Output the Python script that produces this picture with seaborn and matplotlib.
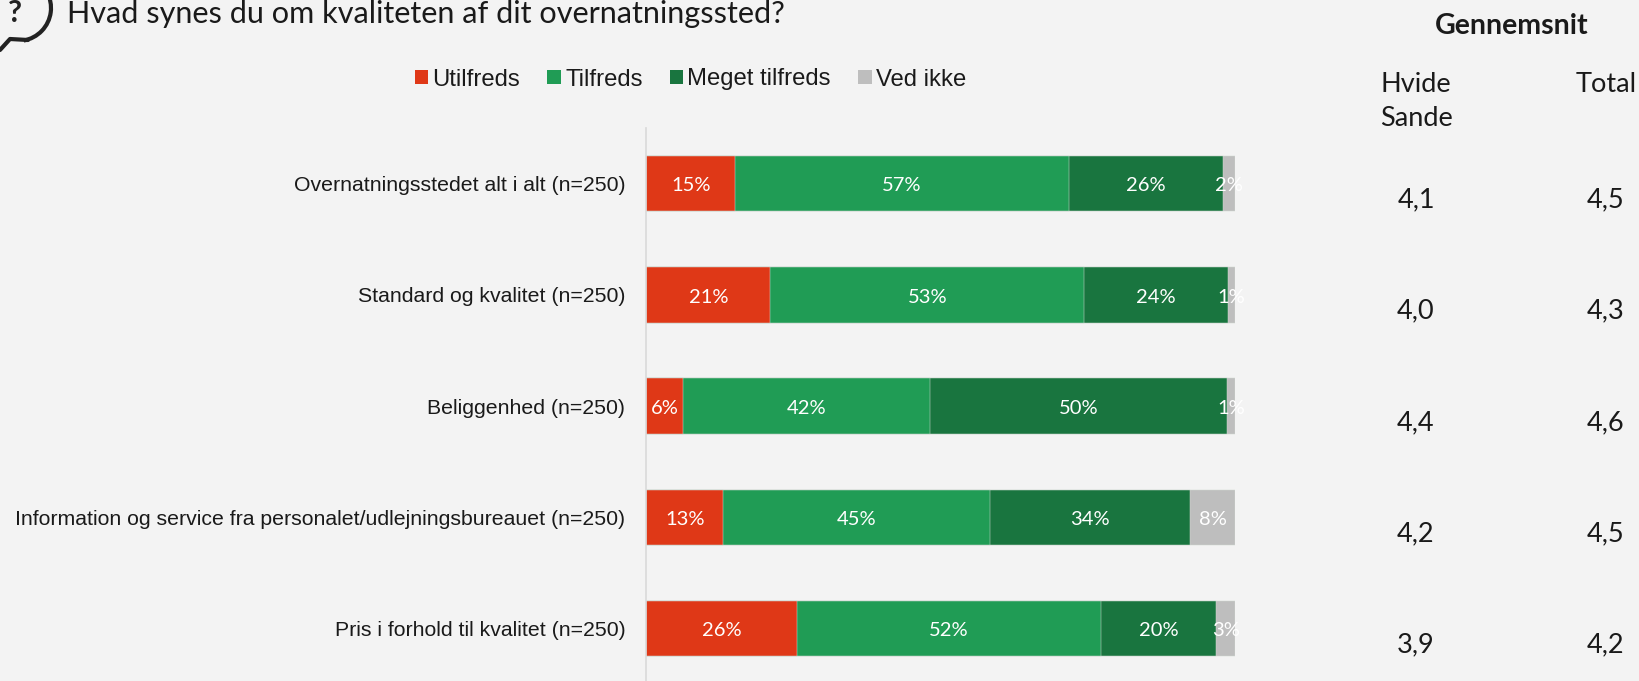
import numpy as np
import pandas as pd
import seaborn as sns
import matplotlib.pyplot as plt
from matplotlib.patches import Arc

categories = ['Overnatningsstedet alt i alt (n=250)', 'Standard og kvalitet (n=250)', 'Beliggenhed (n=250)',
              'Information og service fra personalet/udlejningsbureauet (n=250)', 'Pris i forhold til kvalitet (n=250)']
utilfreds = [15.1, 21.1, 6.2, 13.1, 25.6]
tilfreds = [56.7, 53.3, 42.0, 45.2, 51.6]
meget = [26.1, 24.4, 50.4, 34.0, 19.6]
ved_ikke = [2.1, 1.2, 1.4, 7.7, 3.2]
hvide_sande = ['4,1', '4,0', '4,4', '4,2', '3,9']
total = ['4,5', '4,3', '4,6', '4,5', '4,2']
names = ['Utilfreds', 'Tilfreds', 'Meget tilfreds', 'Ved ikke']
colors = ['#df3817', '#209c55', '#19753f', '#bebebe']

bg = '#f3f3f3'
W, H = 1640, 681

sns.set_theme(style='white')
plt.rcParams['font.family'] = ['Liberation Sans', 'DejaVu Sans']
plt.rcParams['figure.facecolor'] = bg

df = pd.DataFrame({'cat': categories, 'Utilfreds': utilfreds, 'Tilfreds': tilfreds,
                   'Meget tilfreds': meget, 'Ved ikke': ved_ikke})
cum = df[names].cumsum(axis=1)

fig = plt.figure(figsize=(W / 100, H / 100), dpi=100)
fig.patch.set_facecolor(bg)

# axes runs slightly past the bottom of the picture, like the reference crop
ax = fig.add_axes([646.2 / W, (H - 684.2) / H, 589 / W, 556.2 / H])
ax.set_facecolor(bg)
ax.patch.set_alpha(0)

# stacked bars: longest cumulative first, shorter ones painted on top
for name, col in zip(names[::-1], colors[::-1]):
    sns.barplot(x=cum[name].values, y=df['cat'], color=col, saturation=1, width=0.5, orient='h',
                edgecolor='#cfd8d2', linewidth=0.35, ax=ax, label=name)
handles, labels = ax.get_legend_handles_labels()
ax.get_legend().remove()

ax.set_xlim(0, 100)
ax.set_xlabel('')
ax.set_ylabel('')
ax.set_xticks([])
ax.tick_params(axis='y', length=0, pad=15, labelsize=15.3, labelcolor='#1a1a1a')
sns.despine(ax=ax, top=True, right=True, bottom=True)
ax.spines['left'].set_color('#d9d9d9')
ax.spines['left'].set_linewidth(1.2)

# segment labels
for name in names:
    for i, v in enumerate(df[name]):
        ax.text(cum[name][i] - v / 2, i + 0.02, f'{v:.0f}%', color='white', ha='center', va='center',
                fontsize=14.5, family=['Lato', 'DejaVu Sans'], clip_on=False)


def ftext(x, y, s, **kw):
    kw.setdefault('ha', 'center')
    kw.setdefault('va', 'center')
    kw.setdefault('color', '#1a1a1a')
    return fig.text(x / W, 1 - y / H, s, **kw)


light = dict(family=['Lato', 'DejaVu Sans'])
ftext(67, 14, 'Hvad synes du om kvaliteten af dit overnatningssted?', ha='left', fontsize=22.1, **light)
ftext(1512, 26, 'Gennemsnit', fontsize=20.5, fontweight='bold', family=['Lato', 'DejaVu Sans'])
ftext(1416, 84, 'Hvide', fontsize=19.5, **light)
ftext(1416, 119, 'Sande', fontsize=19.5, **light)
ftext(1606, 84, 'Total', fontsize=19.5, **light)
for i in range(len(categories)):
    y = 200 + i * 111.25
    ftext(1416, y, hvide_sande[i], fontsize=19.5, **light)
    ftext(1606, y, total[i], fontsize=19.5, **light)

# legend
order = [labels.index(n) for n in names]
leg = fig.legend([handles[i] for i in order], names, loc='center left', ncol=4, frameon=False,
                 bbox_to_anchor=(398 / W, 1 - 79.5 / H), fontsize=17.2, handlelength=0.57, handleheight=0.57,
                 handletextpad=0.17, columnspacing=1.14, labelcolor='#1a1a1a', borderpad=0.2)
for h in leg.legend_handles:
    h.set_edgecolor('none')

# speech bubble icon, cut off by the top and left edge
ov = fig.add_axes([0, 0, 1, 1])
ov.set_xlim(0, W)
ov.set_ylim(H, 0)
ov.axis('off')
ov.add_patch(Arc((18, 8), 66, 66, theta1=-65, theta2=80, color='#222222', lw=3, clip_on=True))
ov.plot([0, 10, 28], [50, 39, 40], color='#222222', lw=3, solid_capstyle='round')
ov.text(15, 13, '?', fontsize=22, fontweight='bold', ha='center', va='center', color='#222222',
        family=['Lato', 'DejaVu Sans'])

fig.savefig('out.png', dpi=100, facecolor=bg)
